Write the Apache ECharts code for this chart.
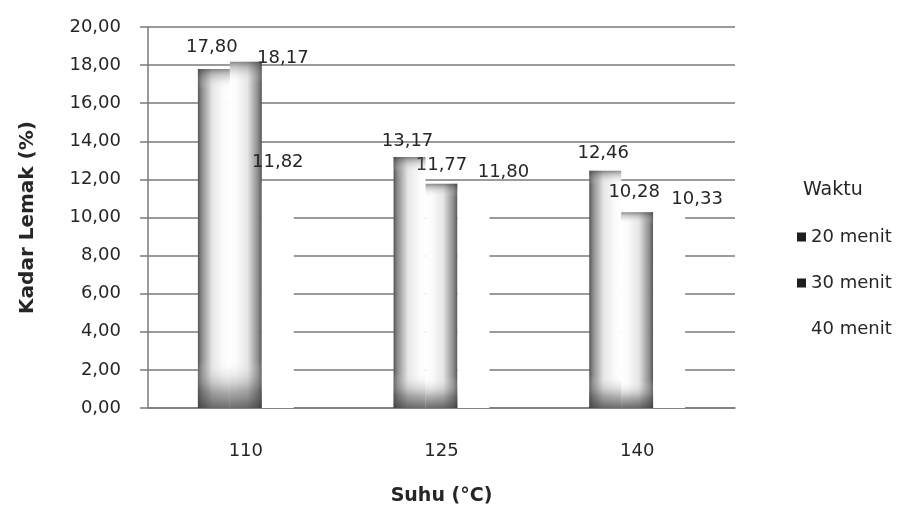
<!DOCTYPE html>
<html>
<head>
<meta charset="utf-8">
<title>Kadar Lemak</title>
<script src="https://cdn.jsdelivr.net/npm/echarts@6/dist/echarts.min.js"></script>
<style>
  html, body { margin: 0; padding: 0; background: #ffffff; }
  #chart { width: 909px; height: 512px; }
</style>
</head>
<body>
<div id="chart"></div>
<script>
// Suhu (°C) categories and fat content (%) per heating time
const categories = ['110', '125', '140'];
const seriesNames = ['20 menit', '30 menit', '40 menit'];
const fat20 = [17.80, 13.17, 12.46];
const fat30 = [18.17, 11.77, 10.28];
const fat40 = [11.82, 11.80, 10.33];

// value-label nudges [dx, dy] for each bar
const labelShift20 = [[-2, -8], [-2, -2], [-2, -3]];
const labelShift30 = [[37, 10], [0, -4], [-3, -6]];
const labelShift40 = [[0, -7], [30, 3], [28, 2]];

const FONT = 'DejaVu Sans';
const TEXT = '#262626';
const LINE = '#7a7a7a';

const fmt = v => Number(v).toFixed(2).replace('.', ',');

// the 20 and 30 minute bars read as one shaded column: dark outer edges, white middle
const fillLeft = {
  type: 'linear', x: 0, y: 0, x2: 1, y2: 0,
  colorStops: [
    { offset: 0, color: '#555555' },
    { offset: 0.12, color: '#8c8c8c' },
    { offset: 0.45, color: '#e6e6e6' },
    { offset: 0.8, color: '#fbfbfb' },
    { offset: 1, color: '#ffffff' }
  ]
};
const fillRight = {
  type: 'linear', x: 0, y: 0, x2: 1, y2: 0,
  colorStops: [
    { offset: 0, color: '#ffffff' },
    { offset: 0.2, color: '#fbfbfb' },
    { offset: 0.55, color: '#e6e6e6' },
    { offset: 0.88, color: '#8c8c8c' },
    { offset: 1, color: '#555555' }
  ]
};
// darker bands at the top and bottom of each bar
const shadeFill = {
  type: 'linear', x: 0, y: 0, x2: 0, y2: 1,
  colorStops: [
    { offset: 0, color: 'rgba(60,60,60,0.6)' },
    { offset: 0.015, color: 'rgba(90,90,90,0.35)' },
    { offset: 0.06, color: 'rgba(255,255,255,0)' },
    { offset: 0.86, color: 'rgba(255,255,255,0)' },
    { offset: 0.95, color: 'rgba(80,80,80,0.45)' },
    { offset: 1, color: 'rgba(60,60,60,0.75)' }
  ]
};

function withShift(values, shifts) {
  return values.map((v, i) => ({ value: v, label: { offset: shifts[i] } }));
}

function mainBar(name, values, shifts, color) {
  return {
    name: name,
    type: 'bar',
    xAxisIndex: 0,
    barGap: '0%',
    barCategoryGap: '51%',
    z: 2,
    data: withShift(values, shifts),
    itemStyle: { color: color },
    label: {
      show: true,
      position: 'top',
      distance: 5,
      formatter: p => fmt(p.value),
      fontFamily: FONT,
      fontSize: 18,
      color: TEXT
    }
  };
}

function shadeBar(name, values, color) {
  return {
    name: name,
    type: 'bar',
    xAxisIndex: 1,
    barGap: '0%',
    barCategoryGap: '51%',
    z: 3,
    silent: true,
    data: values,
    itemStyle: { color: color }
  };
}

const chart = echarts.init(document.getElementById('chart'));

chart.setOption({
  backgroundColor: '#ffffff',
  animation: false,
  title: {
    text: 'Waktu',
    left: 803,
    top: 181,
    padding: 0,
    textStyle: { fontFamily: FONT, fontSize: 19, fontWeight: 'normal', color: TEXT }
  },
  legend: {
    orient: 'vertical',
    left: 797,
    top: 228,
    padding: 0,
    itemWidth: 9,
    itemHeight: 9,
    itemGap: 28,
    icon: 'rect',
    selectedMode: false,
    textStyle: { fontFamily: FONT, fontSize: 18, color: TEXT },
    data: [
      { name: seriesNames[0], itemStyle: { color: '#1e1e1e' } },
      { name: seriesNames[1], itemStyle: { color: '#1e1e1e' } },
      { name: seriesNames[2], itemStyle: { color: 'rgba(255,255,255,0)' } }
    ]
  },
  grid: { left: 148, right: 174, top: 27, bottom: 104 },
  xAxis: [
    {
      type: 'category',
      data: categories,
      name: 'Suhu (°C)',
      nameLocation: 'middle',
      nameGap: 79,
      nameTextStyle: { fontFamily: FONT, fontSize: 19, fontWeight: 'bold', color: TEXT },
      axisLine: { show: true, lineStyle: { color: LINE, width: 1.5 } },
      axisTick: { show: false },
      axisLabel: { margin: 34, fontFamily: FONT, fontSize: 18, color: TEXT }
    },
    {
      type: 'category',
      data: categories,
      show: false
    }
  ],
  yAxis: {
    type: 'value',
    min: 0,
    max: 20,
    interval: 2,
    name: 'Kadar Lemak (%)',
    nameLocation: 'middle',
    nameGap: 110,
    nameTextStyle: { fontFamily: FONT, fontSize: 20, fontWeight: 'bold', color: TEXT },
    axisLine: { show: true, lineStyle: { color: LINE, width: 1.5 } },
    axisTick: { show: true, length: 8, lineStyle: { color: LINE, width: 1.5 } },
    axisLabel: { margin: 27, fontFamily: FONT, fontSize: 18, color: TEXT, formatter: v => fmt(v) },
    splitLine: { show: true, lineStyle: { color: LINE, width: 1.5 } }
  },
  series: [
    mainBar(seriesNames[0], fat20, labelShift20, fillLeft),
    mainBar(seriesNames[1], fat30, labelShift30, fillRight),
    mainBar(seriesNames[2], fat40, labelShift40, '#ffffff'),
    shadeBar('shade-20', fat20, shadeFill),
    shadeBar('shade-30', fat30, shadeFill),
    shadeBar('shade-40', fat40, 'rgba(255,255,255,0)')
  ]
});
</script>
</body>
</html>
